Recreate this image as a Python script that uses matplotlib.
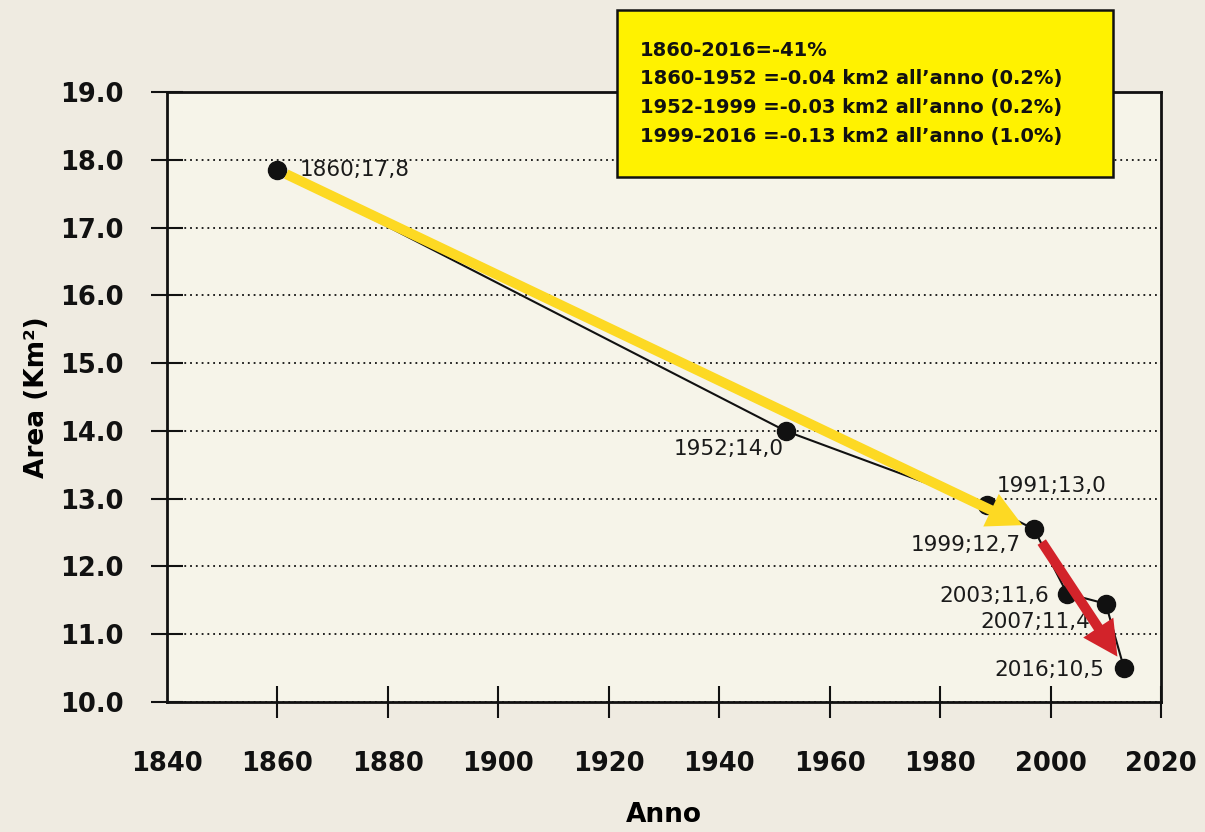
import matplotlib
matplotlib.use('Agg')
import matplotlib.pyplot as plt
from matplotlib.patches import Rectangle

# area of the glacier over time

anni = [1860, 1952, 1988.5, 1997, 2003, 2010, 2013.3]
area = [17.85, 14.0, 12.9, 12.55, 11.6, 11.45, 10.5]
etichette = ['1860;17,8', '1952;14,0', '1991;13,0', '1999;12,7', '2003;11,6', '2007;11,4', '2016;10,5']
# label offsets in points and horizontal alignment
offsets = [(16, 0), (-1.5, -13), (7, 14), (-9.5, -11.5), (-13, -1.5), (-11, -13), (-14, -1.5)]
align = ['left', 'right', 'left', 'right', 'right', 'right', 'right']

xticks = list(range(1840, 2021, 20))
yticks = [10.0, 11.0, 12.0, 13.0, 14.0, 15.0, 16.0, 17.0, 18.0, 19.0]

box_lines = ['1860-2016=-41%',
             '1860-1952 =-0.04 km2 all\u2019anno (0.2%)',
             '1952-1999 =-0.03 km2 all\u2019anno (0.2%)',
             '1999-2016 =-0.13 km2 all\u2019anno (1.0%)']

# arrows: (start, end)
freccia_gialla = ((1860, 17.85), (1994.9, 12.61))
freccia_rossa = ((1998.4, 12.36), (2012.1, 10.67))

bg = '#efebe1'
fig = plt.figure(figsize=(12.05, 8.32), dpi=100, facecolor=bg)
ax = fig.add_axes([0.1386, 0.1562, 0.8249, 0.7332])
ax.set_facecolor('#f6f4e9')

ax.plot(anni, area, color='#111111', lw=1.5, marker='o', ms=13, zorder=3)

for x, y, t, off, ha in zip(anni, area, etichette, offsets, align):
  ax.annotate(t, (x, y), xytext=off, textcoords='offset points', ha=ha, va='center',
              fontsize=15.5, color='#1a1a1a', zorder=4)

ax.annotate('', xy=freccia_gialla[1], xytext=freccia_gialla[0],
            arrowprops=dict(arrowstyle='simple,head_length=1.25,head_width=1.3,tail_width=0.36',
                            mutation_scale=20, color='#fdd923', shrinkA=7, shrinkB=0, lw=0),
            zorder=5)
ax.annotate('', xy=freccia_rossa[1], xytext=freccia_rossa[0],
            arrowprops=dict(arrowstyle='simple,head_length=1.25,head_width=1.3,tail_width=0.36',
                            mutation_scale=20, color='#d2232a', shrinkA=0, shrinkB=0, lw=0),
            zorder=5)

ax.set_xlim(1840, 2020)
ax.set_ylim(10, 19)
ax.set_xticks(xticks)
ax.set_yticks(yticks)
ax.set_yticklabels(['%.1f' % v for v in yticks])
ax.grid(axis='y', color='#111111', linestyle=(0, (1, 2.2)), lw=1.3)
ax.grid(axis='x', visible=False)

for s in ax.spines.values():
  s.set_linewidth(2)
  s.set_color('#111111')

ax.tick_params(axis='x', direction='inout', length=23, width=1.5, pad=24, labelsize=18.5, colors='#111111')
ax.tick_params(axis='y', direction='inout', length=23, width=1.5, pad=20, labelsize=18.5, colors='#111111')
for lab in ax.get_xticklabels() + ax.get_yticklabels():
  lab.set_fontweight('bold')
ax.xaxis.get_major_ticks()[0].tick1line.set_visible(False)

ax.set_xlabel('Anno', fontsize=19, fontweight='bold')
ax.set_ylabel('Area (Km\u00b2)', fontsize=19, fontweight='bold')
ax.xaxis.set_label_coords(0.5, -0.185)
ax.xaxis.label.set_verticalalignment('center')
ax.yaxis.set_label_coords(-0.131, 0.5)
ax.yaxis.label.set_verticalalignment('center')

# yellow box on top
fig.patches.append(Rectangle((617 / 1205, 1 - 177 / 832), 496 / 1205, 167 / 832,
                             transform=fig.transFigure, facecolor='#fff200',
                             edgecolor='#111111', lw=1.8, zorder=6))
for i, riga in enumerate(box_lines):
  fig.text(640 / 1205, 1 - (50 + i * 28.7) / 832, riga, fontsize=14, fontweight='bold',
           va='center', ha='left', color='#111111', zorder=7)

plt.savefig('out.png', dpi=100, facecolor=bg)
